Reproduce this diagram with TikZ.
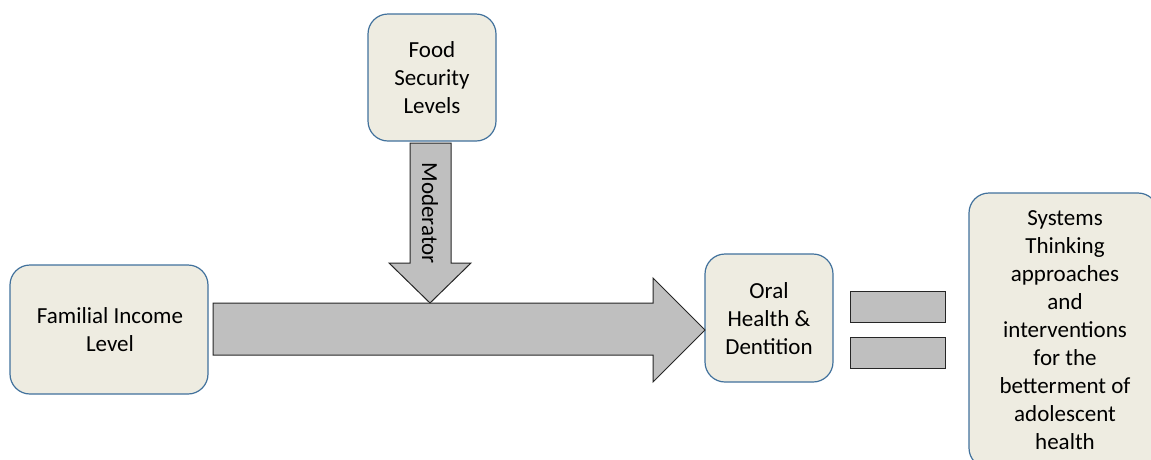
\documentclass[tikz,border=0pt]{standalone}
\usepackage{fontspec}
\setmainfont{Carlito}
\definecolor{boxfill}{HTML}{EEECE1}
\definecolor{boxline}{HTML}{41719C}
\definecolor{arrfill}{HTML}{BFBFBF}
\begin{document}
\begin{tikzpicture}[x=1pt,y=-1pt,
  box/.style={draw=boxline,fill=boxfill,line width=1.2pt,rounded corners=20pt},
  lab/.style={align=center,font=\fontsize{23}{28}\selectfont},
  arr/.style={draw=black!85,fill=arrfill,line width=1pt}]
\useasboundingbox (0,0) rectangle (1151,459);
\begin{scope}
\clip (0,0) rectangle (1151,459);
% boxes
\draw[box] (368,14) rectangle (496,141);
\node[lab] (food) at (432,78) {Food\\Security\\Levels};
\draw[box] (10,265) rectangle (208,394);
\node[lab] (fam) at (110,330) {Familial Income\\Level};
\draw[box] (705,254) rectangle (833,382);
\node[lab] (oral) at (769,319) {Oral\\Health \&\\Dentition};
\draw[box] (969,193) rectangle (1158,468);
\node[lab] (sys) at (1065,330) {Systems\\Thinking\\approaches\\and\\interventions\\for the\\betterment of\\adolescent\\health};
% big arrow
\draw[arr] (213,303) -- (653,303) -- (653,278) -- (705,330) -- (653,382) -- (653,355) -- (213,355) -- cycle;
% moderator arrow
\draw[arr] (410,143) -- (451,143) -- (451,263) -- (471,263) -- (430,303) -- (389,263) -- (410,263) -- cycle;
\node[lab,rotate=-90] (mod) at (430,213) {Moderator};
% equals
\draw[arr] (850,291) rectangle (945,322);
\draw[arr] (850,337) rectangle (945,368);
\end{scope}
\end{tikzpicture}
\end{document}
